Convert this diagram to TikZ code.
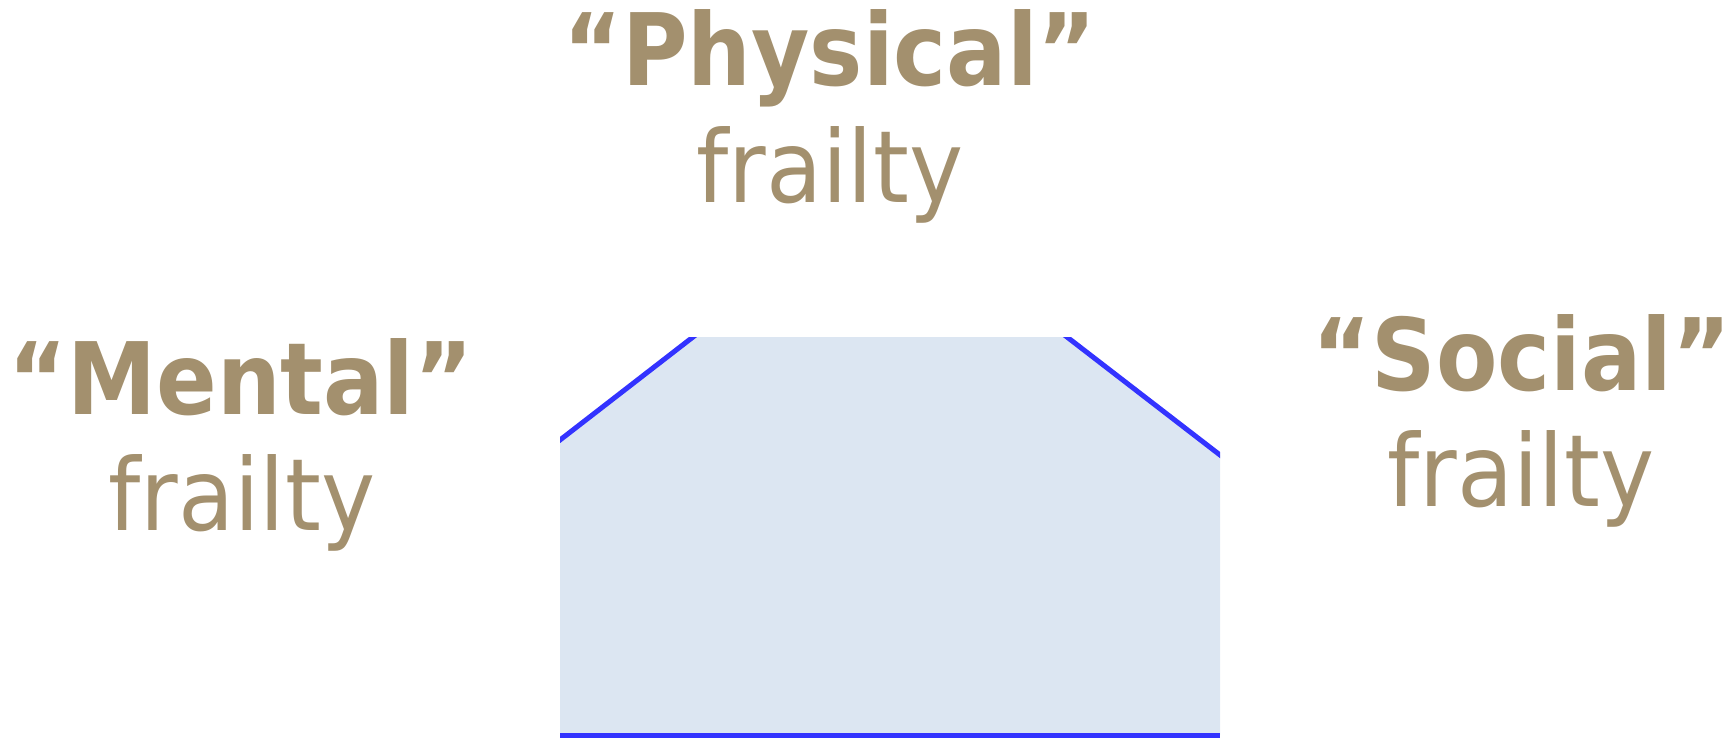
\documentclass[tikz,border=0pt]{standalone}
\usepackage{fontspec}
\setmainfont{DejaVu Sans}[BoldFeatures={FakeStretch=0.895}, UprightFeatures={FakeStretch=0.915}]
\usetikzlibrary{calc}
\definecolor{txt}{HTML}{A3906E}
\definecolor{fillc}{HTML}{DCE6F2}
\definecolor{edge}{HTML}{3333FF}
\tikzset{
  head/.style={inner sep=0pt, anchor=base, text=txt, font=\fontsize{100}{110}\selectfont\bfseries},
  sub/.style={inner sep=0pt, anchor=base, text=txt, font=\fontsize{100}{110}\selectfont},
  rim/.style={draw=edge, line width=5pt},
}
\begin{document}
\begin{tikzpicture}[x=1pt,y=-1pt]
\useasboundingbox (0,0) rectangle (1732,739);
% shape
\coordinate (l0) at (560,440);
\coordinate (l1) at (693,337);
\coordinate (r1) at (1067,337);
\coordinate (r0) at (1220,455);
\coordinate (br) at (1220,735);
\coordinate (bl) at (560,735);
\fill[fillc] (l0) -- (l1) -- (r1) -- (r0) -- (br) -- (bl) -- cycle;
\begin{scope}
\clip (560,337) rectangle (1220,739);
\draw[rim] ($(l0)!-0.05!(l1)$) -- ($(l1)!-0.02!(l0)$);
\draw[rim] ($(r1)!-0.02!(r0)$) -- ($(r0)!-0.05!(r1)$);
\draw[rim] (bl) -- (br);
\end{scope}
% labels
\node[head] (phys) at (830,85) {“Physical”};
\node[sub] (physf) at (830,202) {frailty};
\node[head] (ment) at (241,414) {“Mental”};
\node[sub] (mentf) at (242,530) {frailty};
\node[head] (soc) at (1522,390) {“Social”};
\node[sub] (socf) at (1521,506) {frailty};
\end{tikzpicture}
\end{document}
